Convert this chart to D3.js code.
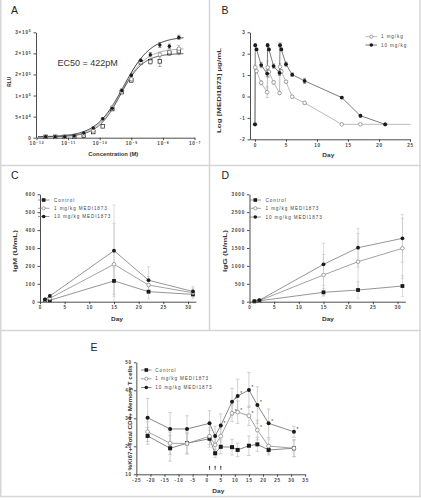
<!DOCTYPE html>
<html><head><meta charset="utf-8">
<script src="https://cdn.jsdelivr.net/npm/d3@7"></script>
<style>
body{margin:0;background:#fff}
svg text{font-family:"Liberation Sans",Arial,sans-serif}
</style></head>
<body><svg id="c" width="421" height="500"></svg>
<script>
// ===== Panel A data =====
const concA = [1.95e-12,3.9e-12,7.8e-12,1.56e-11,3.13e-11,6.25e-11,1.25e-10,2.5e-10,5e-10,1e-9,2e-9,4e-9,8e-9,1.6e-8,3.2e-8];
const rluFilled = [2400,2400,2400,4000,11000,23000,45000,70000,112000,148000,183000,197000,220000,217000,238000];
const rluOpen   = [2000,2000,2000,3000,8000,17000,44000,72000,112000,139000,179000,180000,197000,203000,211000];
const rluSquare = [2000,2000,2000,2500,5000,13500,27000,68000,108000,136000,179000,181000,181000,201000,205000];
const errFilled = [0,0,0,0,0,0,0,2000,3000,3000,4000,5000,6000,5000,5000];
const errOpen   = [0,0,0,0,0,0,2000,2000,3000,4000,4000,6000,6000,5000,8000];
const errSquare = [0,0,0,0,0,0,0,2000,3000,4000,4000,5000,12000,6000,8000];
const fitBottom = [2000,2000,2000];
const fitTop    = [240000,212000,200000];
const fitLogEC50= [-9.25,-9.33,-9.35];
const fitHill   = [1.0,1.1,1.2];
const xTicksA = [1e-12,1e-11,1e-10,1e-9,1e-8,1e-7];
const xTickExpA = ["−12","−11","−10","−9","−8","−7"];
const yTicksA = [0,50000,100000,150000,200000,250000];
const yTickMantA = ["0","5×10","1×10","2×10","2×10","3×10"];
const yTickExpA = ["","4","5","5","5","5"];

// ===== Panel B data =====
const daysB10 = [0,0.04,0.25,1,1.96,2.04,2.25,3,3.96,4.04,4.25,5,6,8,14,17,21];
const logB10  = [-1.3,2.40,2.20,1.47,1.07,2.40,2.20,1.42,1.10,2.40,2.20,1.51,1.02,0.73,-0.05,-0.90,-1.30];
const errB10  = [0,0.06,0.05,0.12,0.15,0.08,0.06,0.1,0.12,0.1,0.06,0.1,0.08,0.12,0.04,0.06,0];
const daysB1  = [0,0.04,0.25,1,1.96,2.04,2.25,3,3.96,4.04,4.25,5,6,8,14,17,21,28];
const logB1   = [-1.3,1.36,1.19,0.64,0.20,1.36,1.15,0.66,0.16,1.39,1.17,0.69,-0.01,-0.30,-1.30,-1.30,-1.30,-1.30];
const errB1   = [0,0.1,0.08,0.1,0.25,0.3,0.25,0.08,0.05,0.15,0.1,0.06,0.06,0.07,0,0,0,0];
const xTicksB = [0,5,10,15,20,25];
const yTicksB = [-2,-1,0,1,2,3];

// ===== Panels C / D data =====
const daysCD = [1,2,15,22,31];
const igmControl = [9,8,116,56,41];
const igm1  = [11,19,209,93,50];
const igm10 = [13,32,285,120,57];
const igmErrControl = [3,3,75,40,25];
const igmErr1  = [4,8,229,47,25];
const igmErr10 = [5,10,255,75,27];
const iggControl = [10,25,262,327,438];
const igg1  = [10,30,746,1117,1491];
const igg10 = [15,40,1043,1508,1770];
const iggErrControl = [5,10,110,230,290];
const iggErr1  = [5,15,570,793,838];
const iggErr10 = [5,15,590,542,670];
const xTicksCD = [0,5,10,15,20,25,30];
const yTicksC = [0,100,200,300,400,500,600];
const yTicksD = [0,500,1000,1500,2000,2500,3000];

// ===== Panel E data =====
const daysE = [-21,-13,-7,1,3,5,9,11,15,18,22,31];
const ki67Control = [23.7,19.3,21.1,22.7,17.5,19.8,19.7,18.7,20.2,20.7,18.7,19.3];
const ki67_1  = [25.2,21.1,21.0,23.6,20.5,23.6,31.8,32.2,30.9,25.8,20.1,19.3];
const ki67_10 = [30.2,26.2,26.2,28.2,23.7,27.4,35.9,38.0,40.1,34.75,28.2,25.2];
const ki67ErrControl = [3.0,4.6,3.9,3.0,1.5,2.5,2.8,2.4,3.5,2.5,1.8,3.0];
const ki67Err1  = [3.5,4.0,3.5,3.0,2.5,3.0,3.0,4.0,3.5,3.5,2.5,3.0];
const ki67Err10 = [6.9,5.9,4.7,4.5,3.5,4.2,4.8,6.0,6.3,6.5,5.1,2.0];
const sig1  = [0,0,0,0,0,0,1,1,1,1,0,0];
const sig10 = [0,0,0,0,0,1,1,1,1,1,1,1];
const doseDaysE = [1,3,5];
const xTicksE = [-25,-20,-15,-10,-5,0,5,10,15,20,25,30,35];
const yTicksE = [10,20,30,40,50];

const legendCDE = ["Control","1 mg/kg MEDI1873","10 mg/kg MEDI1873"];
const legendB = ["1 mg/kg","10 mg/kg"];

// ===== helpers =====
const svg = d3.select('#c');
const AX = '#3a3a3a';
const fmtInt = d => String(d);

// panel frame lines
const frame = svg.append('g').attr('stroke','#d6d6d6').attr('stroke-width',1.5);
frame.append('line').attr('x1',0).attr('x2',421).attr('y1',165.5).attr('y2',165.5);
frame.append('line').attr('x1',0).attr('x2',421).attr('y1',330.5).attr('y2',330.5);
frame.append('line').attr('x1',209.5).attr('x2',209.5).attr('y1',0).attr('y2',331);
frame.append('line').attr('x1',0.75).attr('x2',0.75).attr('y1',0).attr('y2',497);
frame.append('line').attr('x1',420).attr('x2',420).attr('y1',0).attr('y2',497);
frame.append('line').attr('x1',0).attr('x2',421).attr('y1',496.5).attr('y2',496.5);

function styleAxis(g){
  g.select('.domain').attr('stroke',AX).attr('stroke-width',0.9);
  g.selectAll('.tick line').attr('stroke',AX).attr('stroke-width',0.9);
  g.selectAll('.tick text').attr('font-size',4.6).attr('font-weight','bold')
    .attr('letter-spacing',0.8).attr('fill','#444');
}
function xAxis(scale, y, ticks){
  const g = svg.append('g').attr('transform',`translate(0,${y})`)
    .call(d3.axisBottom(scale).tickValues(ticks).tickFormat(fmtInt).tickSize(2.5).tickSizeOuter(0).tickPadding(2));
  styleAxis(g); return g;
}
function yAxis(scale, x, ticks){
  const g = svg.append('g').attr('transform',`translate(${x},0)`)
    .call(d3.axisLeft(scale).tickValues(ticks).tickFormat(fmtInt).tickSize(2.5).tickSizeOuter(0).tickPadding(2));
  styleAxis(g); return g;
}
function title(x,y,txt,len,rot){
  const t = svg.append('text').attr('font-size',5.5).attr('font-weight','bold').attr('fill','#333')
    .attr('text-anchor','middle').attr('textLength',len).attr('lengthAdjust','spacingAndGlyphs').text(txt);
  if(rot) t.attr('transform',`translate(${x},${y}) rotate(-90)`).attr('dy','0.35em');
  else t.attr('x',x).attr('y',y);
  return t;
}
function panelLetter(x,y,l){
  svg.append('text').attr('x',x).attr('y',y).attr('font-size',10.5).attr('fill','#222').text(l);
}
function errBars(g, xs, ys, es, xs_, ys_, color, cap, yMin){
  xs.forEach((d,i)=>{
    if(!es[i]) return;
    const x = xs_(d), y1 = ys_(ys[i]+es[i]), y0 = ys_(Math.max(yMin, ys[i]-es[i]));
    g.append('line').attr('x1',x).attr('x2',x).attr('y1',y1).attr('y2',y0).attr('stroke',color).attr('stroke-width',0.6);
    g.append('line').attr('x1',x-cap).attr('x2',x+cap).attr('y1',y1).attr('y2',y1).attr('stroke',color).attr('stroke-width',0.6);
    if(ys[i]-es[i] >= yMin)
      g.append('line').attr('x1',x-cap).attr('x2',x+cap).attr('y1',y0).attr('y2',y0).attr('stroke',color).attr('stroke-width',0.6);
  });
}
function seriesLine(g, xs, ys, xs_, ys_, color, w){
  g.append('path').datum(xs.map((d,i)=>[d,ys[i]]))
    .attr('d', d3.line().x(d=>xs_(d[0])).y(d=>ys_(d[1])))
    .attr('fill','none').attr('stroke',color).attr('stroke-width',w||0.8);
}
function marker(g, x, y, shape, s){
  if(shape==='square')
    g.append('rect').attr('x',x-s).attr('y',y-s).attr('width',2*s).attr('height',2*s).attr('fill','#1a1a1a');
  else if(shape==='filled')
    g.append('circle').attr('cx',x).attr('cy',y).attr('r',s).attr('fill','#1a1a1a');
  else if(shape==='open')
    g.append('circle').attr('cx',x).attr('cy',y).attr('r',s*0.9).attr('fill','#fff').attr('stroke','#8a8a8a').attr('stroke-width',0.8);
  else if(shape==='openSquare')
    g.append('rect').attr('x',x-s*0.9).attr('y',y-s*0.9).attr('width',1.8*s).attr('height',1.8*s).attr('fill','#fff').attr('stroke','#1a1a1a').attr('stroke-width',0.7);
}
function markers(g, xs, ys, xs_, ys_, shape, s, xmax){
  xs.forEach((d,i)=>{ if(xmax!==undefined && d>xmax) return; marker(g, xs_(d), ys_(ys[i]), shape, s); });
}
function legend(g, x0, x1, xm, xt, ys, labels, shapes, lineColors){
  labels.forEach((l,i)=>{
    g.append('line').attr('x1',x0).attr('x2',x1).attr('y1',ys[i]).attr('y2',ys[i]).attr('stroke',lineColors[i]).attr('stroke-width',0.8);
    marker(g, xm, ys[i], shapes[i], 1.8);
    g.append('text').attr('x',xt).attr('y',ys[i]+1.6).attr('font-size',4.6).attr('letter-spacing',0.9)
      .attr('fill','#444').text(l);
  });
}

// ===== Panel A =====
panelLetter(11,14,'A');
const xA = d3.scaleLog().domain([1e-12,1e-7]).range([36.5,194.5]);
const yA = d3.scaleLinear().domain([0,250000]).range([137.7,32.3]);
const gxA = xAxis(xA, 137.7, xTicksA);
gxA.selectAll('.tick text').each(function(d,i){
  const t = d3.select(this); t.text('');
  t.append('tspan').text('10');
  t.append('tspan').attr('dy',-1.8).attr('font-size',3.4).text(xTickExpA[i]);
});
const gyA = yAxis(yA, 36, yTicksA);
gyA.selectAll('.tick text').each(function(d,i){
  const t = d3.select(this); t.text('').attr('dy','0.32em');
  t.append('tspan').text(yTickMantA[i]);
  if(yTickExpA[i]) t.append('tspan').attr('dy',-1.8).attr('font-size',3.4).text(yTickExpA[i]);
});
title(9.3,81.7,'RLU',10,true);
title(113.3,156.3,'Concentration (M)',50,false);
svg.append('text').attr('x',57.5).attr('y',66.3).attr('font-size',9).attr('fill','#333').text('EC50 = 422pM');
const gA = svg.append('g');
const fitColors = ['#1e1e1e','#9a9a9a','#3c3c3c'];
fitTop.forEach((top,k)=>{
  const pts = d3.range(-11.95,-7.33,0.02).map(lx=>[Math.pow(10,lx),
    fitBottom[k] + (top-fitBottom[k])/(1+Math.pow(10,(fitLogEC50[k]-lx)*fitHill[k]))]);
  gA.append('path').datum(pts).attr('d',d3.line().x(d=>xA(d[0])).y(d=>yA(d[1])))
    .attr('fill','none').attr('stroke',fitColors[k]).attr('stroke-width',0.9);
});
errBars(gA, concA, rluSquare, errSquare, xA, yA, '#777', 1.6, 0);
errBars(gA, concA, rluOpen, errOpen, xA, yA, '#999', 1.6, 0);
errBars(gA, concA, rluFilled, errFilled, xA, yA, '#555', 1.6, 0);
markers(gA, concA, rluSquare, xA, yA, 'openSquare', 2);
markers(gA, concA, rluOpen, xA, yA, 'open', 2);
markers(gA, concA, rluFilled, xA, yA, 'filled', 1.7);

// ===== Panel B =====
panelLetter(221.5,14,'B');
const xB = d3.scaleLinear().domain([-0.806,25]).range([250,410]);
const yB = d3.scaleLinear().domain([-2,3]).range([139.3,32.3]);
xAxis(xB, 139.3, xTicksB);
yAxis(yB, 250, yTicksB);
title(219.3,90.5,'Log [MEDI1873] µg/mL',85,true);
title(328.3,156.8,'Day',12,false);
svg.append('clipPath').attr('id','clipB').append('rect').attr('x',250).attr('y',20).attr('width',160.5).attr('height',125);
const gB = svg.append('g').attr('clip-path','url(#clipB)');
seriesLine(gB, daysB1, logB1, xB, yB, '#a8a8a8', 0.8);
errBars(gB, daysB1, logB1, errB1, xB, yB, '#aaa', 1.5, -2);
seriesLine(gB, daysB10, logB10, xB, yB, '#5a5a5a', 0.8);
errBars(gB, daysB10, logB10, errB10, xB, yB, '#666', 1.5, -2);
markers(gB, daysB1, logB1, xB, yB, 'open', 2, 25);
markers(gB, daysB10, logB10, xB, yB, 'filled', 1.9, 25);
legend(svg.append('g'), 365.5, 377, 371.3, 381, [36.7,45], legendB, ['open','filled'], ['#a8a8a8','#5a5a5a']);

// ===== Panel C =====
panelLetter(11,179,'C');
const xC = d3.scaleLinear().domain([0,31.6]).range([40,195.9]);
const yC = d3.scaleLinear().domain([0,600]).range([301.7,194.3]);
xAxis(xC, 301.7, xTicksCD);
yAxis(yC, 40, yTicksC);
title(15.3,251,'IgM (U/mL)',42,true);
title(117,321,'Day',12,false);
const gC = svg.append('g');
errBars(gC, daysCD, igm10, igmErr10, xC, yC, '#c4c4c4', 1.6, 0);
errBars(gC, daysCD, igm1, igmErr1, xC, yC, '#c4c4c4', 1.6, 0);
errBars(gC, daysCD, igmControl, igmErrControl, xC, yC, '#c4c4c4', 1.6, 0);
seriesLine(gC, daysCD, igmControl, xC, yC, '#7a7a7a');
seriesLine(gC, daysCD, igm1, xC, yC, '#8a8a8a');
seriesLine(gC, daysCD, igm10, xC, yC, '#7a7a7a');
markers(gC, daysCD, igmControl, xC, yC, 'square', 1.9);
markers(gC, daysCD, igm1, xC, yC, 'open', 2);
markers(gC, daysCD, igm10, xC, yC, 'filled', 1.9);
legend(svg.append('g'), 38, 49.5, 43.7, 54, [200,208.3,216.5], legendCDE, ['square','open','filled'], ['#7a7a7a','#8a8a8a','#7a7a7a']);

// ===== Panel D =====
panelLetter(221.5,179,'D');
const xD = d3.scaleLinear().domain([0,31.6]).range([249.5,405.4]);
const yD = d3.scaleLinear().domain([0,3000]).range([301.7,194.3]);
xAxis(xD, 301.7, xTicksCD);
yAxis(yD, 249.5, yTicksD);
title(225,251,'IgG (U/mL)',42,true);
title(328,321,'Day',12,false);
const gD = svg.append('g');
errBars(gD, daysCD, igg10, iggErr10, xD, yD, '#c4c4c4', 1.6, 0);
errBars(gD, daysCD, igg1, iggErr1, xD, yD, '#c4c4c4', 1.6, 0);
errBars(gD, daysCD, iggControl, iggErrControl, xD, yD, '#c4c4c4', 1.6, 0);
seriesLine(gD, daysCD, iggControl, xD, yD, '#7a7a7a');
seriesLine(gD, daysCD, igg1, xD, yD, '#8a8a8a');
seriesLine(gD, daysCD, igg10, xD, yD, '#7a7a7a');
markers(gD, daysCD, iggControl, xD, yD, 'square', 1.9);
markers(gD, daysCD, igg1, xD, yD, 'open', 2);
markers(gD, daysCD, igg10, xD, yD, 'filled', 1.9);
legend(svg.append('g'), 249.5, 261, 255.3, 265.5, [200,208.3,217], legendCDE, ['square','open','filled'], ['#7a7a7a','#8a8a8a','#7a7a7a']);

// ===== Panel E =====
panelLetter(90.5,351,'E');
const xE = d3.scaleLinear().domain([-25,35]).range([136.35,305.2]);
const yE = d3.scaleLinear().domain([10,50]).range([474.3,362.3]);
xAxis(xE, 474.3, xTicksE);
yAxis(yE, 136.35, yTicksE);
title(129.6,418,'%Ki67+ Total CD4+ Memory T cells',105,true);
title(218.3,492.6,'Day',12,false);
const gE = svg.append('g');
errBars(gE, daysE, ki67_10, ki67Err10, xE, yE, '#b4b4b4', 1.8, 10);
errBars(gE, daysE, ki67_1, ki67Err1, xE, yE, '#b4b4b4', 1.8, 10);
errBars(gE, daysE, ki67Control, ki67ErrControl, xE, yE, '#b4b4b4', 1.8, 10);
seriesLine(gE, daysE, ki67Control, xE, yE, '#6a6a6a');
seriesLine(gE, daysE, ki67_1, xE, yE, '#8a8a8a');
seriesLine(gE, daysE, ki67_10, xE, yE, '#6a6a6a');
markers(gE, daysE, ki67Control, xE, yE, 'square', 2);
markers(gE, daysE, ki67_1, xE, yE, 'open', 2.1);
markers(gE, daysE, ki67_10, xE, yE, 'filled', 2);
[[sig1,ki67_1],[sig10,ki67_10]].forEach(([sig,vals])=>{
  daysE.forEach((d,i)=>{ if(!sig[i]) return;
    gE.append('text').attr('x',xE(d)+2.6).attr('y',yE(vals[i])-0.6).attr('font-size',5).attr('fill','#333').text('*');
  });
});
doseDaysE.forEach(d=>{
  const x = xE(d);
  gE.append('line').attr('x1',x).attr('x2',x).attr('y1',469.8).attr('y2',466.5).attr('stroke','#333').attr('stroke-width',0.8);
  gE.append('path').attr('d',`M${x-0.9},467.2L${x},465.4L${x+0.9},467.2Z`).attr('fill','#333');
});
legend(svg.append('g'), 141, 151.5, 146.3, 155.3, [370,378.8,387.5], legendCDE, ['square','open','filled'], ['#6a6a6a','#8a8a8a','#6a6a6a']);
</script>
</body></html>
